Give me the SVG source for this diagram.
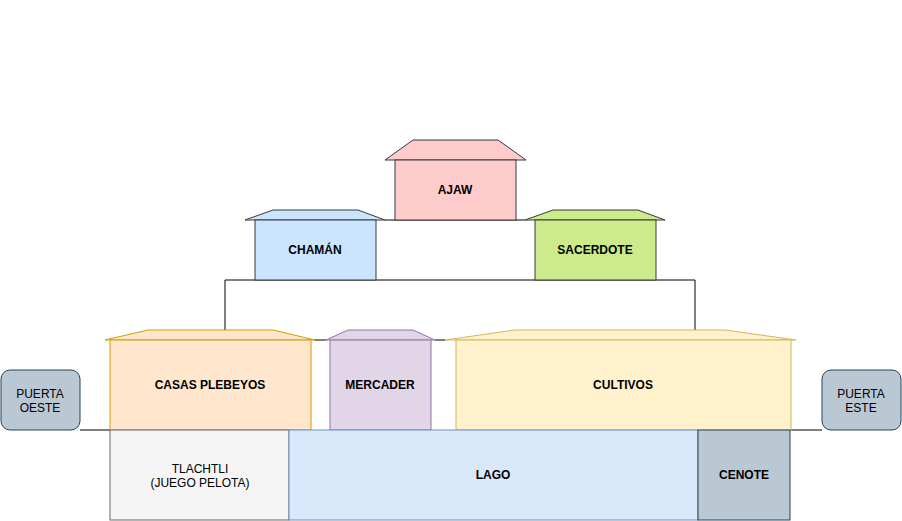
<svg xmlns="http://www.w3.org/2000/svg" width="902" height="521" viewBox="0 0 902 521">
<style>
text{font-family:"Liberation Sans",Arial,sans-serif;font-size:12px;text-anchor:middle;fill:#000}
.b{font-weight:bold}
.c{fill:none;stroke:#000;stroke-width:1}
</style>
<rect width="902" height="521" fill="#fff"/>
<g id="connectors">
<line class="c" x1="385" y1="220" x2="525" y2="220"/>
<polyline class="c" points="225,330 225,280 695,280 695,330"/>
<line class="c" x1="315" y1="340" x2="326" y2="340"/>
<line class="c" x1="435" y1="340" x2="445" y2="340"/>
<line class="c" x1="80" y1="430" x2="110" y2="430"/>
<line class="c" x1="790" y1="430" x2="822" y2="430"/>
</g>
<g id="ajaw">
<polygon points="385,160 413,140 498,140 526,160" fill="#ffcccc" stroke="#36393d"/>
<rect x="395" y="160" width="121" height="60" fill="#ffcccc" stroke="#36393d"/>
<text class="b" x="455" y="194">AJAW</text>
</g>
<g id="chaman">
<polygon points="245,220 273,210 358,210 385,220" fill="#cce5ff" stroke="#36393d"/>
<rect x="255" y="220" width="121" height="60" fill="#cce5ff" stroke="#36393d"/>
<text class="b" x="315" y="254">CHAMÁN</text>
</g>
<g id="sacerdote">
<polygon points="525,220 553,210 638,210 665,220" fill="#cdeb8b" stroke="#36393d"/>
<rect x="535" y="220" width="121" height="60" fill="#cdeb8b" stroke="#36393d"/>
<text class="b" x="595" y="254">SACERDOTE</text>
</g>
<g id="casas">
<polygon points="105,340 148,330 273,330 315,340" fill="#ffe6cc" stroke="#d79b00"/>
<rect x="110" y="340" width="201" height="90" fill="#ffe6cc" stroke="#d79b00"/>
<text class="b" x="210" y="389">CASAS PLEBEYOS</text>
</g>
<g id="mercader">
<polygon points="326,340 348,330 413,330 435,340" fill="#e1d5e7" stroke="#9673a6"/>
<rect x="330" y="340" width="101" height="90" fill="#e1d5e7" stroke="#9673a6"/>
<text class="b" x="380" y="389">MERCADER</text>
</g>
<g id="cultivos">
<polygon points="445,340 515,330 725,330 796,340" fill="#fff2cc" stroke="#d6b656"/>
<rect x="456" y="340" width="335" height="90" fill="#fff2cc" stroke="#d6b656"/>
<text class="b" x="623" y="389">CULTIVOS</text>
</g>
<g id="puerta-oeste">
<rect x="1" y="370" width="79" height="60" rx="9" fill="#bac8d3" stroke="#23445d"/>
<text x="40" y="398">PUERTA</text>
<text x="40" y="412">OESTE</text>
</g>
<g id="puerta-este">
<rect x="822" y="370" width="79" height="60" rx="9" fill="#bac8d3" stroke="#23445d"/>
<text x="861" y="398">PUERTA</text>
<text x="861" y="412">ESTE</text>
</g>
<g id="tlachtli">
<rect x="110" y="430" width="179" height="90" fill="#f5f5f5" stroke="#666666"/>
<text x="200" y="473" fill="#333">TLACHTLI</text>
<text x="200" y="487" fill="#333">(JUEGO PELOTA)</text>
</g>
<g id="lago">
<rect x="289" y="430" width="409" height="90" fill="#dae8fc" stroke="#6c8ebf"/>
<text class="b" x="493" y="479">LAGO</text>
</g>
<g id="cenote">
<rect x="698" y="430" width="92" height="90" fill="#bac8d3" stroke="#23445d"/>
<text class="b" x="744" y="479">CENOTE</text>
</g>
</svg>
